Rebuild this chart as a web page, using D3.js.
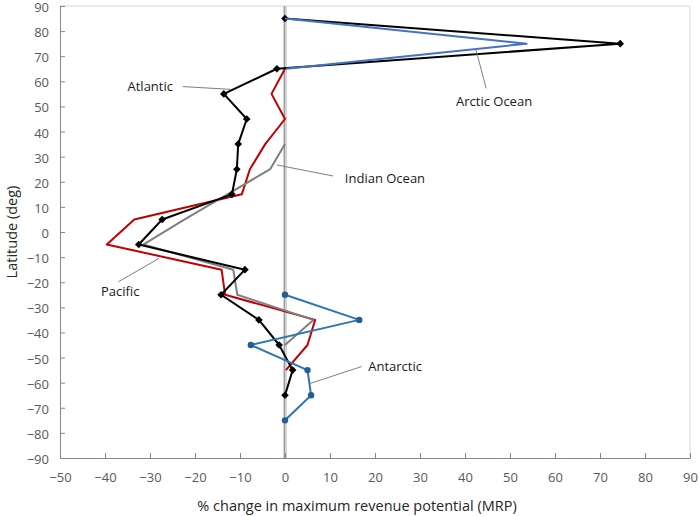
<!DOCTYPE html>
<html>
<head>
<meta charset="utf-8">
<script src="https://cdn.jsdelivr.net/npm/d3@7"></script>
<style>
    body { margin: 0; background: #fff; }
    .axis text { font-family: "Open Sans", sans-serif; font-size: 13px; fill: #595959; }
    .axis path, .axis line { stroke: #868686; }
</style>
</head>
<body>
<div id="chart"></div>
<script>
// Latitude bands (deg) and % change in MRP for each ocean
var latAtlantic = [85, 75, 65, 55, 45, 35, 25, 15, 5, -5, -15, -25, -35, -45, -55, -65];
var atlantic = [0, 74.5, -1.8, -13.6, -8.5, -10.4, -10.7, -11.8, -27.3, -32.5, -8.9, -14.2, -5.8, -1.3, 1.7, 0];

var latArctic = [85, 75, 65];
var arctic = [0, 53.7, 0.3];

var latPacific = [65, 55, 45, 35, 25, 15, 5, -5, -15, -25, -35, -45, -55];
var pacific = [0, -3, 0, -4.4, -7.8, -9.6, -33.5, -39.6, -14.1, -13.3, 6.7, 5, 0.2];

var latIndian = [35, 25, 15, 5, -5, -15, -25, -35, -45];
var indian = [0, -3.3, -12.8, -22.3, -31.5, -11.5, -10.6, 6.3, 0];

var latAntarctic = [-25, -35, -45, -55, -65, -75];
var antarctic = [0, 16.5, -7.6, 5, 5.8, 0];

var xTicks = [-50, -40, -30, -20, -10, 0, 10, 20, 30, 40, 50, 60, 70, 80, 90];
var yTicks = [90, 80, 70, 60, 50, 40, 30, 20, 10, 0, -10, -20, -30, -40, -50, -60, -70, -80, -90];

// series labels: text, text position, leader line (data units)
var labelNames = ["Atlantic", "Arctic Ocean", "Indian Ocean", "Pacific", "Antarctic"];
var labelPos = [[-35, 58.1], [38, 51.9], [13.3, 21.5], [-40.9, -23.8], [18.5, -53.6]];
var leaderFrom = [[-22.7, 57.9], [44.7, 57.2], [10.7, 22.3], [-37, -19.8], [17, -53.6]];
var leaderTo = [[-12, 56.8], [42.4, 72.8], [-1.8, 26.7], [-28, -10.5], [5.6, -60.3]];

//Dimensions
var W = 700, H = 516;
var margin = { top: 6, bottom: 458, left: 60, right: 690 };

var xScale = d3.scaleLinear().domain([-50, 90]).range([margin.left, margin.right]);
var yScale = d3.scaleLinear().domain([-90, 90]).range([margin.bottom, margin.top]);

var svg = d3.select("#chart")
    .append("svg")
    .attr("width", W)
    .attr("height", H);

//Plot area border (top/right)
svg.append("path")
    .attr("d", "M" + margin.left + "," + margin.top + "H" + margin.right + "V" + margin.bottom)
    .attr("fill", "none")
    .attr("stroke", "#d9d9d9")
    .attr("stroke-width", 1);

//Zero line
svg.append("line")
    .attr("x1", xScale(0)).attr("x2", xScale(0))
    .attr("y1", margin.top).attr("y2", margin.bottom)
    .attr("stroke", "#d4d4d4")
    .attr("stroke-width", 4);
svg.append("line")
    .attr("x1", xScale(0) - 0.5).attr("x2", xScale(0) - 0.5)
    .attr("y1", margin.top).attr("y2", margin.bottom)
    .attr("stroke", "#9a9a9a")
    .attr("stroke-width", 1);

//X-Axis
svg.append("g")
    .attr("class", "axis")
    .attr("transform", "translate(0," + margin.bottom + ")")
    .call(d3.axisBottom(xScale).tickValues(xTicks).tickSize(-5).tickSizeOuter(0).tickPadding(15));

//Y-Axis
svg.append("g")
    .attr("class", "axis")
    .attr("transform", "translate(" + margin.left + ",0)")
    .call(d3.axisLeft(yScale).tickValues(yTicks).tickSize(-5).tickSizeOuter(0).tickPadding(11))
    .selectAll("text")
    .attr("dy", "0.42em");

svg.append("text")
    .attr("x", 357)
    .attr("y", 506)
    .attr("dy", "0.35em")
    .style("text-anchor", "middle")
    .attr("font-family", "Open Sans, sans-serif")
    .attr("font-size", 14.5)
    .attr("fill", "#262626")
    .text("% change in maximum revenue potential (MRP)");

svg.append("text")
    .attr("transform", "translate(12," + ((margin.top + margin.bottom) / 2) + ") rotate(-90)")
    .attr("dy", "0.35em")
    .style("text-anchor", "middle")
    .attr("font-family", "Open Sans, sans-serif")
    .attr("font-size", 14.5)
    .attr("fill", "#262626")
    .text("Latitude (deg)");

// Lines
var line = d3.line()
    .x(function(d) { return xScale(d[0]); })
    .y(function(d) { return yScale(d[1]); });

function pairs(vals, lats) {
    return vals.map(function(v, i) { return [v, lats[i]]; });
}

var series = [
    { data: pairs(pacific, latPacific), color: "#c00000", marker: null },
    { data: pairs(indian, latIndian), color: "#7f7f7f", marker: null },
    { data: pairs(atlantic, latAtlantic), color: "#000000", marker: "diamond" },
    { data: pairs(arctic, latArctic), color: "#4472c4", marker: null },
    { data: pairs(antarctic, latAntarctic), color: "#2e75b6", marker: "circle" }
];

series.forEach(function(s) {
    svg.append("path")
        .datum(s.data)
        .attr("d", line)
        .attr("fill", "none")
        .attr("stroke", s.color)
        .attr("stroke-width", 2)
        .attr("stroke-linejoin", "round");

    if (s.marker == "diamond") {
        svg.selectAll(null)
            .data(s.data)
            .enter().append("path")
            .attr("transform", function(d) {
                return "translate(" + xScale(d[0]) + "," + yScale(d[1]) + ")";
            })
            .attr("d", "M0,-3.8L3.8,0L0,3.8L-3.8,0Z")
            .attr("fill", "#000");
    } else if (s.marker == "circle") {
        svg.selectAll(null)
            .data(s.data)
            .enter().append("circle")
            .attr("cx", function(d) { return xScale(d[0]); })
            .attr("cy", function(d) { return yScale(d[1]); })
            .attr("r", 3.2)
            .attr("fill", "#255e91");
    }
});

// Labels with leader lines
labelNames.forEach(function(name, i) {
    svg.append("line")
        .attr("x1", xScale(leaderFrom[i][0]))
        .attr("y1", yScale(leaderFrom[i][1]))
        .attr("x2", xScale(leaderTo[i][0]))
        .attr("y2", yScale(leaderTo[i][1]))
        .attr("stroke", "#7f7f7f")
        .attr("stroke-width", 1);

    svg.append("text")
        .attr("x", xScale(labelPos[i][0]))
        .attr("y", yScale(labelPos[i][1]))
        .attr("dy", "0.35em")
        .attr("font-family", "Open Sans, sans-serif")
        .attr("font-size", 13)
        .attr("fill", "#1a1a1a")
        .text(name);
});
</script>
</body>
</html>
